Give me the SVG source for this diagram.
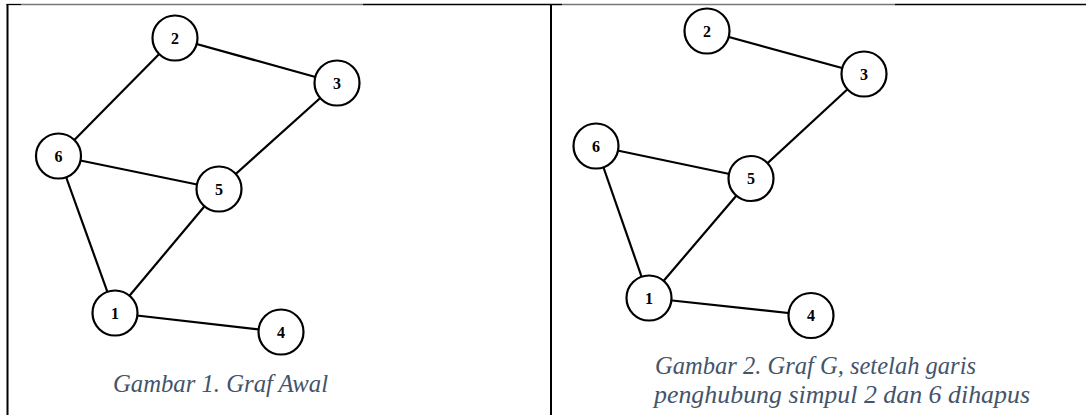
<svg xmlns="http://www.w3.org/2000/svg" width="1086" height="415" viewBox="0 0 1086 415">
<style>
.edge{stroke:#000;stroke-width:2.2;fill:none}
.node circle{fill:#fff;stroke:#000;stroke-width:2.2}
.node text{font-family:"Liberation Serif","Times New Roman",serif;font-weight:bold;font-size:16px;fill:#000;text-anchor:middle}
.cap{font-family:"Liberation Serif","Times New Roman",serif;font-style:italic;font-size:25.5px;fill:#44546A}
.frame{stroke:#000;stroke-width:2}
.grey{stroke:#777;stroke-width:1.3}
.blk{stroke:#000;stroke-width:1.3}
</style>
<rect width="1086" height="415" fill="#fff"/>
<g id="frame">
<line class="blk" x1="6.5" y1="4.5" x2="21" y2="4.5"/>
<line class="grey" x1="21" y1="4.5" x2="363" y2="4.5"/>
<line class="blk" x1="363" y1="4.5" x2="562" y2="4.5"/>
<line class="grey" x1="562" y1="4.5" x2="895" y2="4.5"/>
<line class="blk" x1="895" y1="4.5" x2="1086" y2="4.5"/>
<line class="frame" x1="7.5" y1="4" x2="7.5" y2="415"/>
<line class="frame" x1="551" y1="4" x2="551" y2="415"/>
</g>
<g id="connectors">
<line class="edge" x1="175" y1="38" x2="337" y2="83"/>
<line class="edge" x1="175" y1="38" x2="58.5" y2="156"/>
<line class="edge" x1="58.5" y1="156" x2="219" y2="189"/>
<line class="edge" x1="337" y1="83" x2="219" y2="189"/>
<line class="edge" x1="58.5" y1="156" x2="115" y2="313"/>
<line class="edge" x1="219" y1="189" x2="115" y2="313"/>
<line class="edge" x1="115" y1="313" x2="281" y2="332"/>
<line class="edge" x1="707" y1="31" x2="864" y2="74"/>
<line class="edge" x1="596" y1="146" x2="751" y2="178.5"/>
<line class="edge" x1="864" y1="74" x2="751" y2="178.5"/>
<line class="edge" x1="596" y1="146" x2="649" y2="298"/>
<line class="edge" x1="751" y1="178.5" x2="649" y2="298"/>
<line class="edge" x1="649" y1="298" x2="811" y2="315.5"/>
</g>
<g id="a-n2" class="node"><circle cx="175" cy="38" r="22.5"/><text x="175" y="43.5">2</text></g>
<g id="a-n3" class="node"><circle cx="337" cy="83" r="22.5"/><text x="337" y="88.5">3</text></g>
<g id="a-n6" class="node"><circle cx="58.5" cy="156" r="22.5"/><text x="58.5" y="161.5">6</text></g>
<g id="a-n5" class="node"><circle cx="219" cy="189" r="22.5"/><text x="219" y="194.5">5</text></g>
<g id="a-n1" class="node"><circle cx="115" cy="313" r="22.5"/><text x="115" y="318.5">1</text></g>
<g id="a-n4" class="node"><circle cx="281" cy="332" r="22.5"/><text x="281" y="337.5">4</text></g>
<g id="b-n2" class="node"><circle cx="707" cy="31" r="22.5"/><text x="707" y="36.5">2</text></g>
<g id="b-n3" class="node"><circle cx="864" cy="74" r="22.5"/><text x="864" y="79.5">3</text></g>
<g id="b-n6" class="node"><circle cx="596" cy="146" r="22.5"/><text x="596" y="151.5">6</text></g>
<g id="b-n5" class="node"><circle cx="751" cy="178.5" r="22.5"/><text x="751" y="184">5</text></g>
<g id="b-n1" class="node"><circle cx="649" cy="298" r="22.5"/><text x="649" y="303.5">1</text></g>
<g id="b-n4" class="node"><circle cx="811" cy="315.5" r="22.5"/><text x="811" y="321">4</text></g>
<g id="captions">
<text class="cap" x="113" y="392" textLength="215" lengthAdjust="spacingAndGlyphs">Gambar 1. Graf Awal</text>
<text class="cap" x="655" y="374" textLength="321" lengthAdjust="spacingAndGlyphs">Gambar 2. Graf G, setelah garis</text>
<text class="cap" x="654" y="403" textLength="376" lengthAdjust="spacingAndGlyphs">penghubung simpul 2 dan 6 dihapus</text>
</g>
</svg>
